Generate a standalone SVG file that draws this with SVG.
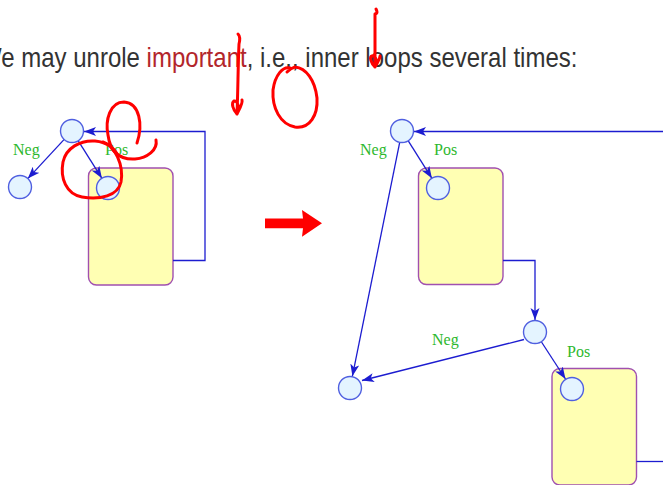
<svg xmlns="http://www.w3.org/2000/svg" width="663" height="485" viewBox="0 0 663 485">
<style>
.title{font-family:"Liberation Sans",Arial,sans-serif;font-size:24px;fill:#333333}
.imp{fill:#b3262b}
.lbl{font-family:"Liberation Serif","Times New Roman",serif;font-size:16px;fill:#2db82d}
.node{fill:#e4f4ff;stroke:#4f5fe0;stroke-width:1.4}
.box{fill:#ffffb3;stroke:#a050b0;stroke-width:1.4}
.edge{fill:none;stroke:#1c1cd0;stroke-width:1.3;marker-end:url(#ah)}
.plain{fill:none;stroke:#1c1cd0;stroke-width:1.3}
.ink{fill:none;stroke:#ff0000;stroke-width:3;stroke-linecap:round;stroke-linejoin:round}
</style>
<defs>
<marker id="ah" markerWidth="14" markerHeight="10" refX="12" refY="4.5" orient="auto" markerUnits="userSpaceOnUse">
<path d="M0,0 L12,4.5 L0,9 L3,4.5 z" fill="#1c1cd0"/>
</marker>
</defs>
<rect width="663" height="485" fill="#ffffff"/>
<g id="title">
<text class="title" transform="translate(-21,67) scale(1,1.15)">We may unrole <tspan class="imp">important</tspan>, i.e., inner loops several times:</text>
</g>
<g id="boxes">
<rect id="box-left" class="box" x="88.5" y="168" width="84.5" height="117" rx="8"/>
<rect id="box-right1" class="box" x="418.5" y="168" width="84.5" height="116.5" rx="8"/>
<rect id="box-right2" class="box" x="552" y="368.5" width="84.5" height="116.5" rx="8"/>
</g>
<g id="connectors">
<line class="edge" x1="64.2" y1="139.4" x2="27.8" y2="178.6"/>
<line class="edge" x1="78.1" y1="140.7" x2="101.9" y2="178.3"/>
<path class="edge" d="M173,260.5 H205 V131.5 H84"/>
<path class="edge" d="M663,131.5 H414"/>
<line class="edge" x1="399.6" y1="142.8" x2="352.4" y2="376.2"/>
<line class="edge" x1="408.1" y1="140.7" x2="431.9" y2="178.3"/>
<path class="edge" d="M503,260.5 H535 V320"/>
<line class="edge" x1="524" y1="339.5" x2="362" y2="380.5"/>
<line class="edge" x1="541.5" y1="342" x2="565.5" y2="379"/>
<path class="plain" d="M636.5,461.5 H663"/>
</g>
<g id="labels">
<text class="lbl" x="13" y="155">Neg</text>
<text class="lbl" x="105" y="155">Pos</text>
<text class="lbl" x="360" y="155">Neg</text>
<text class="lbl" x="434" y="155">Pos</text>
<text class="lbl" x="432" y="345">Neg</text>
<text class="lbl" x="567" y="357">Pos</text>
</g>
<g id="node-l-top"><circle class="node" cx="72" cy="131" r="11.5"/></g>
<g id="node-l-neg"><circle class="node" cx="20" cy="187" r="11.5"/></g>
<g id="node-l-pos"><circle class="node" cx="108" cy="188" r="11.5"/></g>
<g id="node-r-top"><circle class="node" cx="402" cy="131" r="11.5"/></g>
<g id="node-r-pos1"><circle class="node" cx="438" cy="188" r="11.5"/></g>
<g id="node-r-mid"><circle class="node" cx="535" cy="332" r="11.5"/></g>
<g id="node-r-neg"><circle class="node" cx="350" cy="388" r="11.5"/></g>
<g id="node-r-pos2"><circle class="node" cx="572" cy="389" r="11.5"/></g>
<g id="big-arrow">
<polygon points="265,218.5 303,218.5 302,210 322,223.3 302,236.7 303,228.3 265,228.3" fill="#ff0000"/>
</g>
<g id="annotations">
<path class="ink" d="M238,34 C240,36 240,40 239,44 C238,65 238,90 237,114 M237,114 C233,110 231,103 234,101 C237,100 240,106 237,114 C240,108 243,103 242,100"/>
<path class="ink" d="M290,68 C283,66 275,75 273,90 C272,108 280,124 295,127 C310,129 318,115 317,98 C315,80 306,68 295,67 C291,68 289,70 287,72"/>
<path class="ink" d="M376,9 C377,11 378,13 375,14 C375,30 375,50 375,67 M375,67 C371,63 369,57 372,56 C375,55 378,60 375,67 C378,62 380,58 380,56"/>
<path class="ink" d="M137,143 C143,125 140,103 124,102 C110,102 105,120 108,135 C110,150 118,160 135,159 C147,158 158,150 156,140"/>
<path class="ink" d="M103,142 C115,146 124,165 121,182 C118,196 100,200 82,197 C66,194 60,178 63,162 C66,148 80,140 95,141 C108,142 116,150 118,156"/>
</g>
</svg>
